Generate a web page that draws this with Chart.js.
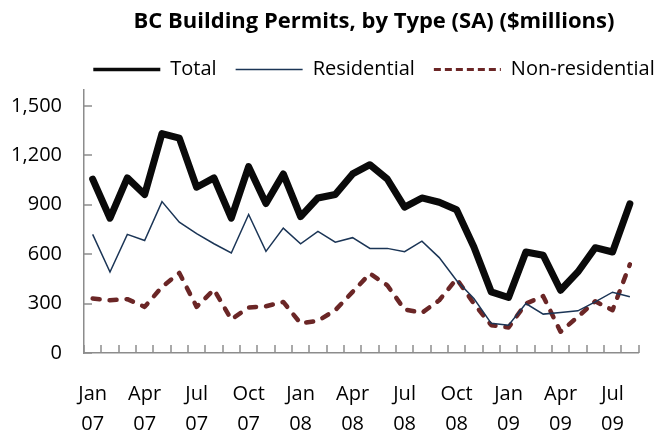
<!DOCTYPE html>
<html><head><meta charset="utf-8">
<script src="https://cdn.jsdelivr.net/npm/chart.js@4.4.1/dist/chart.umd.min.js"></script>
<style>html,body{margin:0;padding:0;background:#fff}#w{width:656px;height:432px}</style>
</head><body><div id="w"><canvas id="c"></canvas></div>
<script>
const months = ['Jan 07','Feb 07','Mar 07','Apr 07','May 07','Jun 07','Jul 07','Aug 07','Sep 07','Oct 07','Nov 07','Dec 07',
 'Jan 08','Feb 08','Mar 08','Apr 08','May 08','Jun 08','Jul 08','Aug 08','Sep 08','Oct 08','Nov 08','Dec 08',
 'Jan 09','Feb 09','Mar 09','Apr 09','May 09','Jun 09','Jul 09','Aug 09'];
const total = [1055,818,1063,962,1332,1304,1006,1063,818,1131,907,1087,828,941,962,1087,1143,1056,885,941,915,870,643,371,337,613,593,381,492,639,613,905];
const residential = [720,492,720,683,919,794,724,663,607,841,617,758,663,738,673,700,635,635,615,679,579,440,331,180,169,300,236,246,256,310,369,341];
const nonResidential = [331,320,327,280,401,486,280,385,204,276,284,310,180,195,260,371,482,411,264,244,320,450,300,169,155,300,345,129,220,314,260,538];
const yTicks = [0,300,600,900,1200,1500];

const FONT = "'Open Sans'";
const AXIS = '#8c8c8c';
const innerTicks = {
  id:'innerTicks',
  afterDraw(chart){
    const ctx = chart.ctx, x = chart.scales.x, y = chart.scales.y, a = chart.chartArea;
    ctx.save(); ctx.strokeStyle = AXIS; ctx.lineWidth = 1.5;
    y.ticks.forEach((t,i)=>{ const py = Math.round(y.getPixelForTick(i)); ctx.beginPath(); ctx.moveTo(a.left, py); ctx.lineTo(a.left+8, py); ctx.stroke(); });
    const step = x.getPixelForValue(1)-x.getPixelForValue(0);
    for(let i=0;i<=months.length;i++){ const px = Math.round(x.getPixelForValue(0)-step/2+i*step); ctx.beginPath(); ctx.moveTo(px,a.bottom); ctx.lineTo(px,a.bottom-8); ctx.stroke(); }
    ctx.restore();
  }
};
new Chart(document.getElementById('c'), {
  type:'line',
  data:{ labels: months, datasets:[
    {label:'Total', data: total, borderColor:'#0a0a0a', backgroundColor:'#0a0a0a', borderWidth:7, borderJoinStyle:'round', borderCapStyle:'round', pointRadius:0, pointStyle:'line', tension:0},
    {label:'Residential', data: residential, borderColor:'#1b3556', backgroundColor:'#1b3556', borderWidth:1.5, pointRadius:0, pointStyle:'line', tension:0},
    {label:'Non-residential', data: nonResidential, borderColor:'#6b2626', backgroundColor:'#6b2626', borderWidth:4.5, borderDash:[7,10], borderCapStyle:'round', borderJoinStyle:'round', pointRadius:0, pointStyle:'line', tension:0}
  ]},
  options:{
    responsive:true, maintainAspectRatio:false, animation:false,
    layout:{padding:{left:0,right:-92,top:0,bottom:0}},
    plugins:{
      title:{display:true, text:'BC Building Permits, by Type (SA) ($millions)', color:'#000', fullSize:true, font:{family:FONT, size:22, weight:'bold', lineHeight:1.2}, padding:{top:9,bottom:5}},
      legend:{display:true, fullSize:true, labels:{usePointStyle:true, pointStyleWidth:67, boxHeight:20, color:'#000', padding:19, font:{family:FONT,size:20},
        generateLabels(chart){ const items = Chart.defaults.plugins.legend.labels.generateLabels(chart); const w=[3.5,1.5,3]; items.forEach((it,i)=>{it.lineWidth=w[i]; it.fillStyle='rgba(0,0,0,0)'; if(i===2) it.lineDash=[7,4];}); return items; }}},
      tooltip:{enabled:false}
    },
    scales:{
      x:{ type:'category', offset:true,
        grid:{display:true, drawOnChartArea:false, drawTicks:false, offset:true},
        border:{display:true, color:AXIS, width:1.5},
        ticks:{autoSkip:false, maxRotation:0, minRotation:0, color:'#000', padding:26, font:{family:FONT,size:20, lineHeight:1.5},
          callback(v,i){ return i%3===0 ? months[i].split(' ') : ''; }},
        afterFit(s){ s.height = 79; }
      },
      y:{ min:0, max:1600, afterBuildTicks(s){ s.ticks = yTicks.map(v=>({value:v})); },
        grid:{display:true, drawOnChartArea:false, drawTicks:false},
        border:{display:true, color:AXIS, width:1.5},
        ticks:{color:'#000', padding:22, font:{family:FONT,size:20}, callback(v){ return v.toLocaleString('en-US'); }},
        afterFit(s){ s.width = 84; }
      },
      y2:{ type:'linear', position:'right', display:true, min:0, max:1,
        grid:{display:false}, border:{display:false}, ticks:{display:false},
        afterFit(s){ s.width = 101; }
      }
    }
  },
  plugins:[innerTicks]
});
</script></body></html>
